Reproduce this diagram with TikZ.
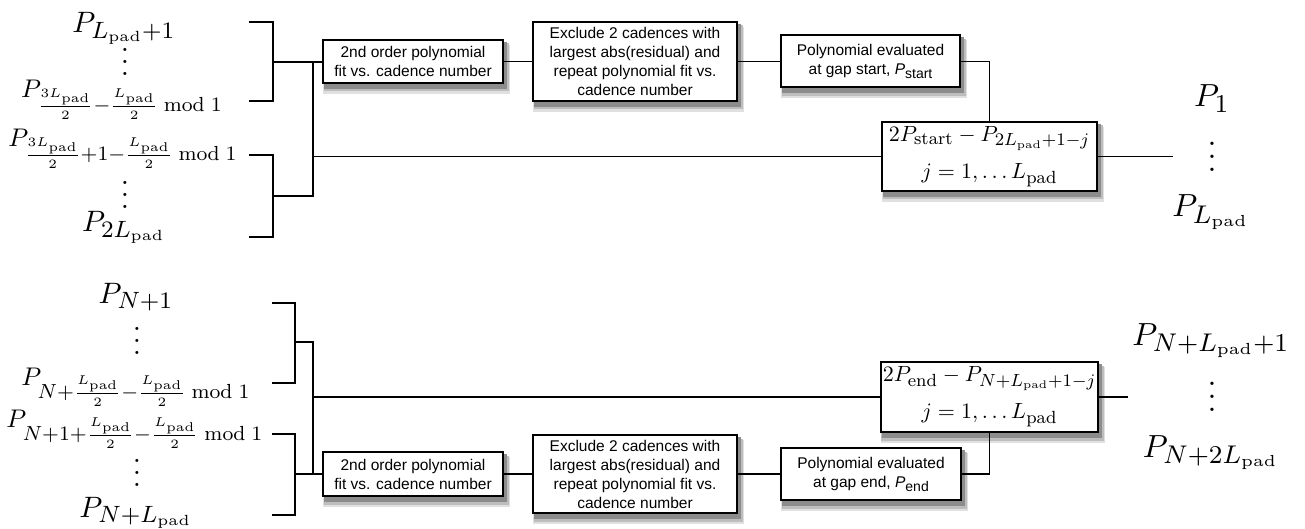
\RequirePackage{fix-cm}
\documentclass[tikz,border=0pt]{standalone}
\usepackage{amsmath}
\usepackage{graphicx}
\usepackage{fontspec}
\newfontfamily\boxfont{Liberation Sans}
\usetikzlibrary{backgrounds,calc}
\DeclareMathSizes{10}{10}{8}{5}
\newcommand{\Lp}{L_{\mathrm{pad}}}
\newcommand{\dotcol}{\vbox{\baselineskip=4pt\lineskiplimit=-100pt\lineskip=0pt\hbox{.}\hbox{.}\hbox{.}}}
\newcommand{\scl}[1]{\scalebox{2.95}{#1}}
\newcommand{\scf}[1]{\scalebox{2.55}{#1}}
\newcommand{\scr}[1]{\scalebox{3.2}{#1}}
\newcommand{\scm}[1]{\scalebox{2.2}{#1}}
\tikzset{
  lbl/.style={inner sep=0pt, anchor=base},
  dots/.style={inner sep=0pt, anchor=center},
  proc/.style={draw, line width=2pt, fill=white, align=center, inner sep=2pt,
    font=\boxfont\fontsize{15.5}{19}\selectfont},
  mproc/.style={proc, font=\fontsize{10}{37}\selectfont},
  wire/.style={line width=1.9pt},
  shdA/.style={fill=black!12},
  shdB/.style={fill=black!26},
  shdC/.style={fill=black!45},
}
\begin{document}
\begin{tikzpicture}[x=1pt,y=-1pt]
\useasboundingbox (0,0) rectangle (1305,529);

% ---------- top half ----------
\node[lbl] (L1) at (124,33) {\scl{$P_{\Lp+1}$}};
\node[dots] (V1) at (125,62) {\scl{\dotcol}};
\node[lbl] (L2) at (122,98) {\scf{$P_{\frac{3\Lp}{2}-\frac{\Lp}{2}\bmod 1}$}};
\node[lbl] (L3) at (123,147) {\scf{$P_{\frac{3\Lp}{2}+1-\frac{\Lp}{2}\bmod 1}$}};
\node[dots] (V2) at (125,195) {\scl{\dotcol}};
\node[lbl] (L4) at (124,232) {\scl{$P_{2\Lp}$}};

\coordinate (b1t) at (249,22);
\coordinate (b1b) at (249,101);
\coordinate (b2t) at (249,155);
\coordinate (b2b) at (249,237);

\node[proc, minimum width=180pt, minimum height=43pt] (A) at (413,61.5)
  {2nd order polynomial\\fit vs. cadence number};
\node[proc, minimum width=204pt, minimum height=79pt] (B) at (635,61.5)
  {Exclude 2 cadences with\\largest abs(residual) and\\repeat polynomial fit vs.\\cadence number};
\node[proc, minimum width=179pt, minimum height=52pt] (C) at (870.5,61.5)
  {Polynomial evaluated\\at gap start, \textit{P}\raisebox{-4pt}{\fontsize{14}{14}\selectfont start}};
\node[mproc, minimum width=215pt, minimum height=69pt] (D) at (989.5,156.5)
  {\scm{$2P_{\mathrm{start}}-P_{2\Lp+1-j}$}\\\scm{$j=1,\ldots \Lp$}};

\coordinate (o1) at (1173,156.5);
\node[lbl] (R1) at (1212,107) {\scr{$P_1$}};
\node[dots] (R2) at (1212,157) {\scr{\dotcol}};
\node[lbl] (R3) at (1211,217) {\scr{$P_{\Lp}$}};

\draw[wire] (b1t) -- (273,22) -- (273,101) -- (b1b);
\draw[wire] (b2t) -- (273,155) -- (273,237) -- (b2b);
\draw[wire] (273,62) -- (A.west |- 0,62);
\draw[wire] (273,196) -- (313,196) -- (313,62);
\draw[wire] (313,156.5) -- (D.west);
\draw[wire] (A.east) -- (B.west);
\draw[wire] (B.east) -- (C.west);
\draw[wire] (C.east) -| (D.north);
\draw[wire] (D.east) -- (o1);

% ---------- bottom half ----------
\node[lbl] (N1) at (136,303) {\scl{$P_{N+1}$}};
\node[dots] (V3) at (137,341) {\scl{\dotcol}};
\node[lbl] (N2) at (136,385) {\scf{$P_{N+\frac{\Lp}{2}-\frac{\Lp}{2}\bmod 1}$}};
\node[lbl] (N3) at (135,427) {\scf{$P_{N+1+\frac{\Lp}{2}-\frac{\Lp}{2}\bmod 1}$}};
\node[dots] (V4) at (137,473) {\scl{\dotcol}};
\node[lbl] (N4) at (136,517) {\scl{$P_{N+\Lp}$}};

\coordinate (b3t) at (272,303);
\coordinate (b3b) at (272,383);
\coordinate (b4t) at (272,434);
\coordinate (b4b) at (272,515);

\node[proc, minimum width=180pt, minimum height=44pt] (A2) at (413,474)
  {2nd order polynomial\\fit vs. cadence number};
\node[proc, minimum width=204pt, minimum height=78pt] (B2) at (635,474)
  {Exclude 2 cadences with\\largest abs(residual) and\\repeat polynomial fit vs.\\cadence number};
\node[proc, minimum width=180pt, minimum height=52pt] (C2) at (871,474)
  {Polynomial evaluated\\at gap end, \textit{P}\raisebox{-4pt}{\fontsize{14}{14}\selectfont end}};
\node[mproc, minimum width=215pt, minimum height=70pt] (D2) at (989.5,397)
  {\scm{$2P_{\mathrm{end}}-P_{N+\Lp+1-j}$}\\\scm{$j=1,\ldots \Lp$}};

\coordinate (o2) at (1128,397);
\node[lbl] (S1) at (1211,345) {\scr{$P_{N+\Lp+1}$}};
\node[dots] (S2) at (1212,397) {\scr{\dotcol}};
\node[lbl] (S3) at (1211,457) {\scr{$P_{N+2\Lp}$}};

\draw[wire] (b3t) -- (295,303) -- (295,383) -- (b3b);
\draw[wire] (b4t) -- (295,434) -- (295,515) -- (b4b);
\draw[wire] (295,342) -- (313,342) -- (313,474);
\draw[wire] (295,474) -- (A2.west);
\draw[wire] (313,397) -- (D2.west);
\draw[wire] (A2.east) -- (B2.west);
\draw[wire] (B2.east) -- (C2.west);
\draw[wire] (C2.east) -| (D2.south);
\draw[wire] (D2.east) -- (o2);

% ---------- drop shadows ----------
\begin{scope}[on background layer]
\foreach \n in {A,B,C,D,A2,B2,C2,D2}{
  \path[shdA] ($(\n.south west)+(1pt,-10pt)$) rectangle ($(\n.north east)+(6pt,-6pt)$);
  \path[shdB] ($(\n.south west)+(1.5pt,-7.5pt)$) rectangle ($(\n.north east)+(4.5pt,-4.5pt)$);
  \path[shdC] ($(\n.south west)+(2pt,-5pt)$) rectangle ($(\n.north east)+(3pt,-3pt)$);
}
\end{scope}
\end{tikzpicture}
\end{document}
